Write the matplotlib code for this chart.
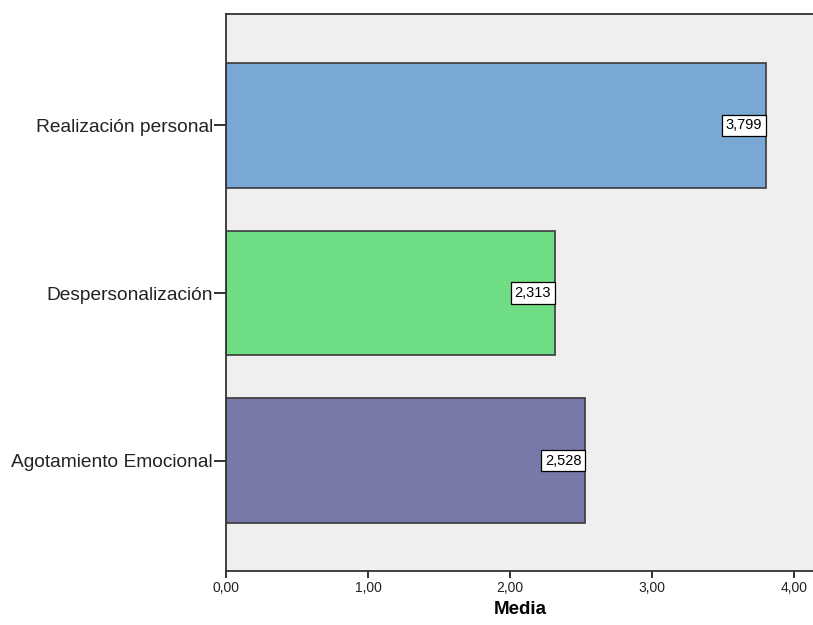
import matplotlib
matplotlib.use("Agg")
import matplotlib.pyplot as plt

categories = ["Agotamiento Emocional", "Despersonalización", "Realización personal"]
means = [2.528, 2.313, 3.799]
colors = ["#7879A8", "#6FDD84", "#79A8D5"]
xticks = [0, 1, 2, 3, 4]
xtick_labels = ["0,00", "1,00", "2,00", "3,00", "4,00"]

plt.rcParams["font.family"] = ["Liberation Sans", "DejaVu Sans"]

fig = plt.figure(figsize=(8.13, 6.25), dpi=100)
# right edge sits just outside the canvas, so the right frame line is clipped
ax = fig.add_axes([0.278, 0.0864, 0.725, 0.8912])
ax.set_facecolor("#EFEFEF")

ypos = list(range(len(categories)))
ax.barh(ypos, means, height=0.745, color=colors, edgecolor="#3A3A3A", linewidth=1.2, zorder=2)

for y, v in zip(ypos, means):
    ax.annotate(f"{v:.3f}".replace(".", ","), xy=(v, y), xytext=(-2.5, 0),
                textcoords="offset points", ha="right", va="center", fontsize=10.5,
                bbox=dict(boxstyle="square,pad=0.25", fc="white", ec="black", lw=0.9),
                zorder=3)

ax.set_xlim(0, 4.15)
ax.set_ylim(-0.657, 2.663)
ax.set_yticks(ypos)
ax.set_yticklabels(categories, fontsize=13.8, color="#222222")
ax.set_xticks(xticks)
ax.set_xticklabels(xtick_labels, fontsize=10, color="#222222")
ax.tick_params(axis="y", length=9, width=1.3, color="#222222", pad=0.5)
ax.tick_params(axis="x", length=5, width=1.3, color="#222222", pad=2.5)
ax.set_xlabel("Media", fontsize=13.5, fontweight="bold", labelpad=4)

for s in ax.spines.values():
    s.set_color("#333333")
    s.set_linewidth(1.3)

fig.savefig("out.png", dpi=100, facecolor="white")
